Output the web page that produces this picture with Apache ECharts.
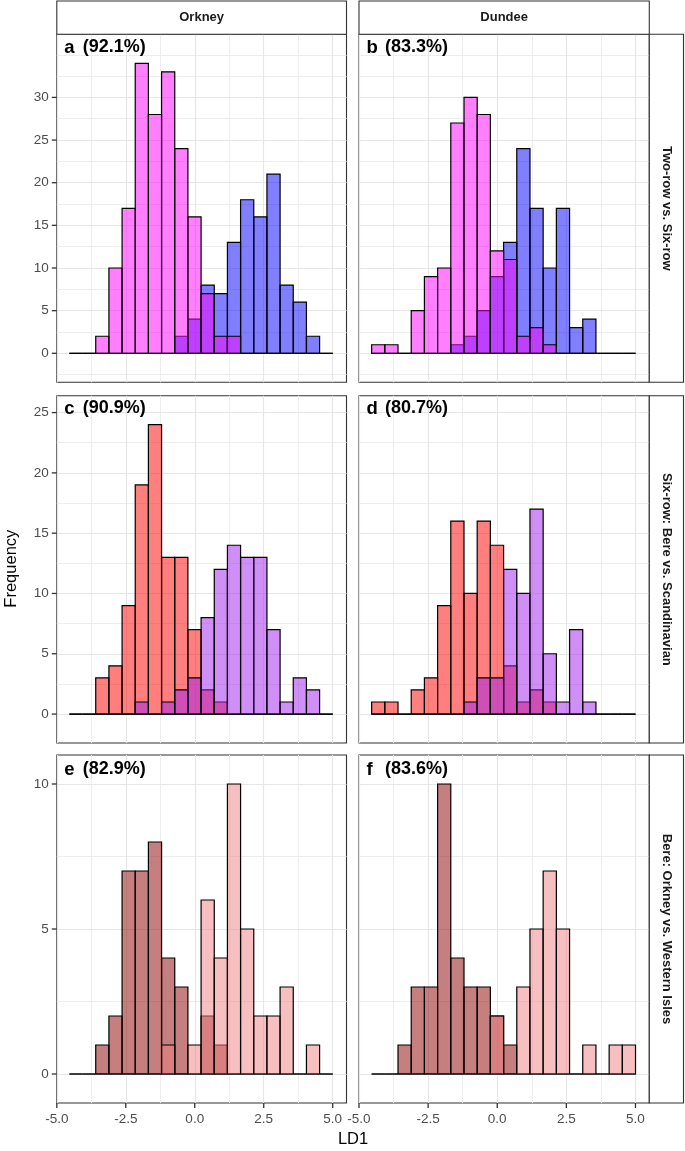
<!DOCTYPE html>
<html><head><meta charset="utf-8">
<script src="https://cdn.jsdelivr.net/npm/echarts@6/dist/echarts.min.js"></script>
<style>html,body{margin:0;padding:0;background:#fff}#c{width:685px;height:1151px}</style>
</head><body><div id="c"></div>
<script>
// ---------- data ----------
const binEdges = [-4.543,-4.066,-3.589,-3.111,-2.634,-2.157,-1.680,-1.202,-0.725,-0.248,0.230,0.707,1.184,1.661,2.139,2.616,3.093,3.570,4.048,4.525,5.002];

const colTitles = ['Orkney', 'Dundee'];
const rowTitles = ['Two-row vs. Six-row', 'Six-row: Bere vs. Scandinavian', 'Bere: Orkney vs. Western Isles'];
const panelLetters = ['a', 'b', 'c', 'd', 'e', 'f'];
const panelAccuracy = ['(92.1%)', '(83.3%)', '(90.9%)', '(80.7%)', '(82.9%)', '(83.6%)'];

// row 1 : two-row vs six-row
const orkneySixRow = [0,0,0,0,0,0,0,0,2,4,8,7,13,18,16,21,8,6,2,0];
const orkneyTwoRow = [0,0,2,10,17,34,28,33,24,16,7,2,2,0,0,0,0,0,0,0];
const dundeeSixRow = [0,0,0,0,0,0,1,2,5,9,13,24,17,10,17,3,4,0,0,0];
const dundeeTwoRow = [1,1,0,5,9,10,27,30,28,12,11,2,3,1,0,0,0,0,0,0];
// row 2 : six-row Bere vs Scandinavian
const orkneyBere6 = [0,0,3,4,9,19,24,13,13,7,2,1,0,0,0,0,0,0,0,0];
const orkneyScand6 = [0,0,0,0,0,1,0,1,2,3,8,12,14,13,13,7,1,3,2,0];
const dundeeBere6 = [1,1,0,2,3,9,16,10,16,14,4,1,2,1,0,0,0,0,0,0];
const dundeeScand6 = [0,0,0,0,0,0,0,1,3,3,12,10,17,5,1,7,1,0,0,0];
// row 3 : Bere Orkney vs Western Isles
const orkneyBereOrk = [0,0,1,2,7,7,8,4,3,0,2,1,0,0,0,0,0,0,0,0];
const orkneyBereWI = [0,0,0,0,0,0,0,1,0,1,6,4,10,5,2,2,3,0,1,0];
const dundeeBereOrk = [0,0,1,3,3,10,4,3,3,2,1,0,0,0,0,0,0,0,0,0];
const dundeeBereWI = [0,0,0,0,0,0,0,0,0,2,0,3,5,7,5,0,1,0,1,1];

const xLimits = [-5, 5.5];
const xTicks = [-5, -2.5, 0, 2.5, 5];
const xMinor = [-3.75, -1.25, 1.25, 3.75];
const yLimits = [[-3.4, 37.4], [-2.4, 26.4], [-1, 11]];
const yTicks = [[0,5,10,15,20,25,30], [0,5,10,15,20,25], [0,5,10]];
const yMinor = [[-2.5,2.5,7.5,12.5,17.5,22.5,27.5,32.5,35], [2.5,7.5,12.5,17.5,22.5], [2.5,7.5]];

// [back group, front group] per panel a..f
const panelSeries = [
  [orkneySixRow, orkneyTwoRow], [dundeeSixRow, dundeeTwoRow],
  [orkneyBere6, orkneyScand6], [dundeeBere6, dundeeScand6],
  [orkneyBereOrk, orkneyBereWI], [dundeeBereOrk, dundeeBereWI]
];

// ---------- styles / layout ----------
const rowColors = [
  ['rgba(0,0,255,0.5)', 'rgba(255,0,255,0.5)'],
  ['rgba(255,0,0,0.5)', 'rgba(160,32,240,0.5)'],
  ['rgba(139,0,0,0.5)', 'rgba(240,128,128,0.5)']
];
const cols = [{ left: 56.8, width: 289.7 }, { left: 359, width: 290.3 }];
const rows = [{ top: 34.3, height: 348 }, { top: 395.7, height: 347.3 }, { top: 755, height: 348 }];
const labelDy = [14.5, 14, 16];
const TICK_LEN = 5;
const FONT = '"Liberation Sans", Arial, Helvetica, sans-serif';
const BORDER = '#333333';

const grids = [], xAxes = [], yAxes = [], series = [], graphics = [];

function makeRender(color) {
  return function (params, api) {
    const p0 = api.coord([api.value(0), 0]);
    const p1 = api.coord([api.value(1), api.value(2)]);
    return {
      type: 'rect',
      shape: { x: p0[0], y: p1[1], width: p1[0] - p0[0], height: p0[1] - p1[1] },
      style: { fill: color, stroke: '#000', lineWidth: 1.2 }
    };
  };
}
// axis tick marks drawn through the axis scales
function yTickRender(params, api) {
  const p = api.coord([api.value(0), api.value(1)]);
  return { type: 'line', shape: { x1: p[0] - TICK_LEN, y1: p[1], x2: p[0], y2: p[1] },
           style: { stroke: BORDER, lineWidth: 1.3 } };
}
function xTickRender(params, api) {
  const p = api.coord([api.value(0), api.value(1)]);
  return { type: 'line', shape: { x1: p[0], y1: p[1], x2: p[0], y2: p[1] + TICK_LEN },
           style: { stroke: BORDER, lineWidth: 1.3 } };
}

for (let r = 0; r < 3; r++) {
  for (let c = 0; c < 2; c++) {
    const g = r * 2 + c;
    grids.push({
      left: cols[c].left, width: cols[c].width, top: rows[r].top, height: rows[r].height,
      show: true, borderColor: BORDER, borderWidth: 1.1, backgroundColor: 'transparent',
      containLabel: false, outerBoundsMode: 'none'
    });
    const bottomRow = r === 2, leftCol = c === 0;
    // main x axis (major grid, labels)
    xAxes.push({
      gridIndex: g, type: 'value', min: xLimits[0], max: xLimits[1], position: 'bottom', z: 3,
      axisLine: { show: false, onZero: false },
      axisTick: { show: false, customValues: xTicks },
      axisLabel: { show: bottomRow, customValues: xTicks, formatter: v => v.toFixed(1), color: '#4D4D4D', fontSize: 13.5, fontFamily: FONT, margin: 9 },
      splitLine: { show: true, lineStyle: { color: '#E6E6E6', width: 1.2 } }
    });
    // minor x axis (minor grid only)
    xAxes.push({
      gridIndex: g, type: 'value', min: xLimits[0], max: xLimits[1], position: 'top', z: 2,
      axisLine: { show: false, onZero: false },
      axisTick: { show: false, customValues: xMinor },
      axisLabel: { show: false, customValues: xMinor },
      splitLine: { show: true, lineStyle: { color: '#EDEDED', width: 1 } }
    });
    yAxes.push({
      gridIndex: g, type: 'value', min: yLimits[r][0], max: yLimits[r][1], position: 'left', z: 3,
      axisLine: { show: false, onZero: false },
      axisTick: { show: false, customValues: yTicks[r] },
      axisLabel: { show: leftCol, customValues: yTicks[r], color: '#4D4D4D', fontSize: 13.5, fontFamily: FONT, margin: 8 },
      splitLine: { show: true, lineStyle: { color: '#E6E6E6', width: 1.2 } }
    });
    yAxes.push({
      gridIndex: g, type: 'value', min: yLimits[r][0], max: yLimits[r][1], position: 'right', z: 2,
      axisLine: { show: false, onZero: false },
      axisTick: { show: false, customValues: yMinor[r] },
      axisLabel: { show: false, customValues: yMinor[r] },
      splitLine: { show: true, lineStyle: { color: '#EDEDED', width: 1 } }
    });
    for (let s = 0; s < 2; s++) {
      const counts = panelSeries[g][s];
      series.push({
        type: 'custom', xAxisIndex: g * 2, yAxisIndex: g * 2, z: 5 + s,
        renderItem: makeRender(rowColors[r][s]),
        encode: { x: [0, 1], y: 2 },
        data: counts.map((v, i) => [binEdges[i], binEdges[i + 1], v])
      });
    }
    if (leftCol) {
      series.push({
        type: 'custom', xAxisIndex: g * 2, yAxisIndex: g * 2, z: 8, clip: false, silent: true,
        renderItem: yTickRender, encode: { x: 0, y: 1 },
        data: yTicks[r].map(v => [xLimits[0], v])
      });
    }
    if (bottomRow) {
      series.push({
        type: 'custom', xAxisIndex: g * 2, yAxisIndex: g * 2, z: 8, clip: false, silent: true,
        renderItem: xTickRender, encode: { x: 0, y: 1 },
        data: xTicks.map(v => [v, yLimits[r][0]])
      });
    }
    // panel labels
    graphics.push({
      type: 'text', left: cols[c].left + 7.5, top: rows[r].top + labelDy[r] - 10.5, z: 20,
      style: { text: panelLetters[g], font: 'bold 18.5px ' + FONT, fill: '#000' }
    });
    graphics.push({
      type: 'text', left: cols[c].left + 26, top: rows[r].top + labelDy[r] - 10.5, z: 20,
      style: { text: panelAccuracy[g], font: 'bold 18px ' + FONT, fill: '#000' }
    });
  }
}

// top strips
for (let c = 0; c < 2; c++) {
  graphics.push({
    type: 'rect', shape: { x: cols[c].left, y: 1, width: cols[c].width, height: rows[0].top - 1 },
    style: { fill: '#fff', stroke: BORDER, lineWidth: 1.1 }, z: 10
  });
  graphics.push({
    type: 'text', x: cols[c].left + cols[c].width / 2, y: (1 + rows[0].top) / 2, z: 11,
    style: { text: colTitles[c], font: 'bold 13px ' + FONT, fill: '#1A1A1A', textAlign: 'center', textVerticalAlign: 'middle' }
  });
}
// right strips
const stripX = cols[1].left + cols[1].width;
for (let r = 0; r < 3; r++) {
  graphics.push({
    type: 'rect', shape: { x: stripX, y: rows[r].top, width: 683.5 - stripX, height: rows[r].height },
    style: { fill: '#fff', stroke: BORDER, lineWidth: 1.1 }, z: 10
  });
  graphics.push({
    type: 'text', x: (stripX + 683.5) / 2, y: rows[r].top + rows[r].height / 2, rotation: -Math.PI / 2, z: 11,
    style: { text: rowTitles[r], font: 'bold 13px ' + FONT, fill: '#1A1A1A', textAlign: 'center', textVerticalAlign: 'middle' }
  });
}
// axis titles
graphics.push({
  type: 'text', x: 11, y: (rows[0].top + rows[2].top + rows[2].height) / 2, rotation: Math.PI / 2, z: 11,
  style: { text: 'Frequency', font: '16.5px ' + FONT, fill: '#000', textAlign: 'center', textVerticalAlign: 'middle' }
});
graphics.push({
  type: 'text', x: (cols[0].left + stripX) / 2, y: 1139, z: 11,
  style: { text: 'LD1', font: '16.5px ' + FONT, fill: '#000', textAlign: 'center', textVerticalAlign: 'middle' }
});

const chart = echarts.init(document.getElementById('c'), null, { renderer: 'canvas' });
chart.setOption({
  animation: false,
  backgroundColor: '#fff',
  grid: grids, xAxis: xAxes, yAxis: yAxes, series: series, graphic: graphics
});
</script></body></html>
